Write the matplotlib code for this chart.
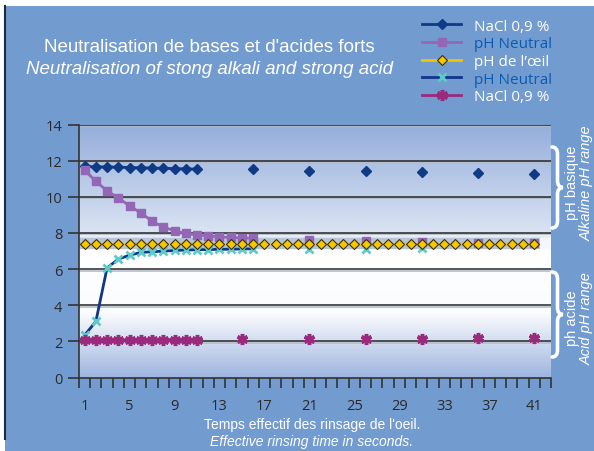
import numpy as np
import matplotlib.pyplot as plt
from matplotlib.colors import LinearSegmentedColormap
from matplotlib.path import Path
from matplotlib.patches import PathPatch

# data
x_line = list(range(1, 12))
nacl_base = [11.68, 11.66, 11.65, 11.64, 11.62, 11.61, 11.59, 11.58, 11.56, 11.55, 11.53]
x_late = [16, 21, 26, 31, 36, 41]
nacl_base_late = [11.51, 11.45, 11.40, 11.36, 11.30, 11.25]

x_neutral = list(range(1, 17))
neutral_base = [11.48, 10.85, 10.33, 9.93, 9.50, 9.11, 8.65, 8.32, 8.12, 7.97,
                7.88, 7.82, 7.79, 7.75, 7.73, 7.71]
x_neutral_late = [21, 26, 31, 36, 41]
neutral_base_late = [7.60, 7.55, 7.52, 7.45, 7.42]

x_eye = list(range(1, 42))
eye_ph = [7.4] * 41

neutral_acid = [2.34, 3.10, 6.07, 6.55, 6.77, 6.92, 6.96, 6.99, 7.03, 7.05,
                7.07, 7.08, 7.09, 7.10, 7.11, 7.12]
x_acid_neutral_late = [21, 26, 31]
neutral_acid_late = [7.12, 7.13, 7.14]

nacl_acid = [2.08, 2.08, 2.08, 2.08, 2.08, 2.09, 2.09, 2.09, 2.10, 2.10, 2.10]
x_acid_late = [15, 21, 26, 31, 36, 41]
nacl_acid_late = [2.12, 2.15, 2.15, 2.15, 2.2, 2.2]

xticks = list(range(1, 42, 4))
yticks = list(range(0, 15, 2))

W, H = 594, 452
bg = '#729bd0'
fig = plt.figure(figsize=(5.94, 4.52), dpi=100)
fig.patch.set_facecolor('white')
fig.patches.append(plt.Rectangle((5 / W, 0), 1, 1 - 7 / H, transform=fig.transFigure,
                                 facecolor=bg, edgecolor='none', zorder=-10))
fig.lines.append(plt.Line2D([5 / W, 5 / W], [12 / H, 1 - 7 / H],
                            transform=fig.transFigure, color='#1e2a3a', lw=1.5))

ax = fig.add_axes([79 / W, 1 - 378.5 / H, 472 / W, 253 / H])

# gradient backgrounds
up = LinearSegmentedColormap.from_list('up', ['#dde6f4', '#95addb'])
lo = LinearSegmentedColormap.from_list('lo', ['#ffffff', '#fbfcfe', '#9db4df'])
grad = np.linspace(0, 1, 256).reshape(-1, 1)
ax.imshow(grad, cmap=up, aspect='auto', extent=(0.5, 42.5, 7.7, 14), origin='lower',
          zorder=0)
ax.imshow(grad[::-1], cmap=lo, aspect='auto', extent=(0.5, 42.5, 0, 7.15), origin='lower',
          zorder=0)
ax.axhspan(7.7, 8.0, color='#e6ecf6', zorder=0)
ax.axhspan(7.15, 7.7, xmin=0, xmax=41 / 42, color='#b8c3d6', zorder=0.5)
ax.axhspan(7.15, 7.7, xmin=41 / 42, xmax=1, color='#f4f7fb', zorder=0.5)
ax.set_xlim(0.5, 42.5)
ax.set_ylim(0, 14)

for yv in yticks[1:]:
    ax.axhline(yv - 0.08, color='#b4bdca', lw=1.2, zorder=1)
    ax.axhline(yv, color='#262626', lw=1.1, zorder=1.5)

c_nacl = '#0f3a86'
c_purple = '#9466b6'
c_cyan = '#5ecaca'
c_navy = '#12358a'
c_mag = '#992a7c'

ax.plot(x_line, nacl_base, color=c_nacl, lw=2, marker='D', ms=5, zorder=3)
ax.plot(x_late, nacl_base_late, ls='none', color=c_nacl, marker='D', ms=5, zorder=3)

ax.plot(x_neutral, neutral_base, color=c_purple, lw=2, marker='s', ms=6, zorder=3)
ax.plot(x_neutral_late, neutral_base_late, ls='none', color=c_purple, marker='s', ms=6,
        zorder=3)

ax.plot(x_neutral, neutral_acid, color=c_navy, lw=2, marker='x', ms=6, mew=2,
        mec=c_cyan, zorder=3)
ax.plot(x_acid_neutral_late, neutral_acid_late, ls='none', marker='x', ms=6, mew=2,
        mec=c_cyan, zorder=3)

ax.plot(x_line, nacl_acid, color=c_mag, lw=2, marker=(6, 2, 0), ms=8, mew=2.5,
        mec=c_mag, zorder=3)
ax.plot(x_acid_late, nacl_acid_late, ls='none', color=c_mag, marker=(6, 2, 0), ms=8,
        mew=2.5, mec=c_mag, zorder=3)

ax.plot(x_eye, eye_ph, color='#f2c500', lw=1.6, ls=(0, (2, 1.5)), marker='D', ms=5,
        mfc='#f7c800', mec='#3a3000', mew=0.8, zorder=4)

# axes styling
for s in ['top', 'right']:
    ax.spines[s].set_visible(False)
for s in ['left', 'bottom']:
    ax.spines[s].set_color('#333333')
    ax.spines[s].set_linewidth(1.2)
ax.set_yticks(yticks)
ax.set_xticks(xticks)
ax.set_xticks(np.arange(0.5, 43, 1), minor=True)
tick_font = {'family': ['Open Sans', 'DejaVu Sans'], 'size': 10.5}
ax.set_yticklabels([str(v) for v in yticks], fontdict=tick_font, color='#2a2a2a')
ax.set_xticklabels([str(v) for v in xticks], fontdict=tick_font, color='#2a2a2a')
ax.tick_params(axis='y', length=8, width=1.2, color='#333333', pad=4)
ax.tick_params(axis='x', which='major', length=0, pad=15)
ax.tick_params(axis='x', which='minor', length=7, width=1.2, color='#333333')

title_font = ['Liberation Sans', 'DejaVu Sans']
fig.text(209 / W, 1 - 47 / H, "Neutralisation de bases et d'acides forts",
         family=title_font, fontsize=13.5, color='white', ha='center', va='center')
fig.text(209 / W, 1 - 69 / H, "Neutralisation of stong alkali and strong acid",
         family=title_font, fontsize=13.5, style='italic', color='white',
         ha='center', va='center')
fig.text(312 / W, 1 - 425 / H, "Temps effectif des rinsage de l'oeil.",
         family=title_font, fontsize=10, color='white', ha='center', va='center')
fig.text(312 / W, 1 - 442 / H, "Effective rinsing time in seconds.",
         family=title_font, fontsize=10, style='italic', color='white',
         ha='center', va='center')


# range braces, drawn in figure pixel coordinates
def brace(top, bot, x0=552, x1=563):
    xm = (x0 + x1) / 2
    mid = (top + bot) / 2
    r = 7
    pts = [(x0, top), (xm, top), (xm, top + r), (xm, mid - r), (xm, mid), (x1, mid),
           (xm, mid), (xm, mid + r), (xm, bot - r), (xm, bot), (x0, bot)]
    codes = [Path.MOVETO, Path.CURVE3, Path.CURVE3, Path.LINETO, Path.CURVE3, Path.CURVE3,
             Path.CURVE3, Path.CURVE3, Path.LINETO, Path.CURVE3, Path.CURVE3]
    pts = [(px / W, 1 - py / H) for px, py in pts]
    fig.patches.append(PathPatch(Path(pts, codes), transform=fig.transFigure,
                                 facecolor='none', edgecolor='white', lw=2.6,
                                 capstyle='round'))


brace(148, 229)
brace(273, 358)
fig.text(572 / W, 1 - 183 / H, 'pH basique', family=title_font, fontsize=10.5,
         color='white', rotation=90, ha='center', va='center')
fig.text(587 / W, 1 - 183 / H, 'Alkaline pH range', family=title_font, fontsize=10.5,
         style='italic', color='white', rotation=90, ha='center', va='center')
fig.text(572 / W, 1 - 318 / H, 'ph acide', family=title_font, fontsize=10.5,
         color='white', rotation=90, ha='center', va='center')
fig.text(587 / W, 1 - 319 / H, 'Acid pH range', family=title_font, fontsize=10.5,
         style='italic', color='white', rotation=90, ha='center', va='center')

# legend
h1 = plt.Line2D([], [], color=c_nacl, lw=2, marker='D', ms=5)
h2 = plt.Line2D([], [], color=c_purple, lw=2, marker='s', ms=6)
h3 = plt.Line2D([], [], color='#f2c500', lw=2, marker='D', ms=5, mfc='#f7c800',
                mec='#3a3000', mew=0.8)
h4 = plt.Line2D([], [], color=c_navy, lw=2, marker='x', ms=6, mew=2, mec=c_cyan)
h5 = plt.Line2D([], [], color=c_mag, lw=2, marker=(6, 2, 0), ms=8, mew=2.5)
labels = ['NaCl 0,9 %', 'pH Neutral', "pH de l\u2019\u0153il", 'pH Neutral', 'NaCl 0,9 %']
leg = fig.legend([h1, h2, h3, h4, h5], labels, loc='upper left',
                 bbox_to_anchor=(408 / W, 1 - 6 / H), frameon=False,
                 handlelength=2.6, handletextpad=0.8, labelspacing=0.17,
                 prop={'family': ['Open Sans', 'DejaVu Sans'], 'size': 11})
for t, c in zip(leg.get_texts(), ['white', '#0b5cb0', 'white', '#0b5cb0', 'white']):
    t.set_color(c)

fig.savefig('out.png', dpi=100, facecolor=fig.get_facecolor())
